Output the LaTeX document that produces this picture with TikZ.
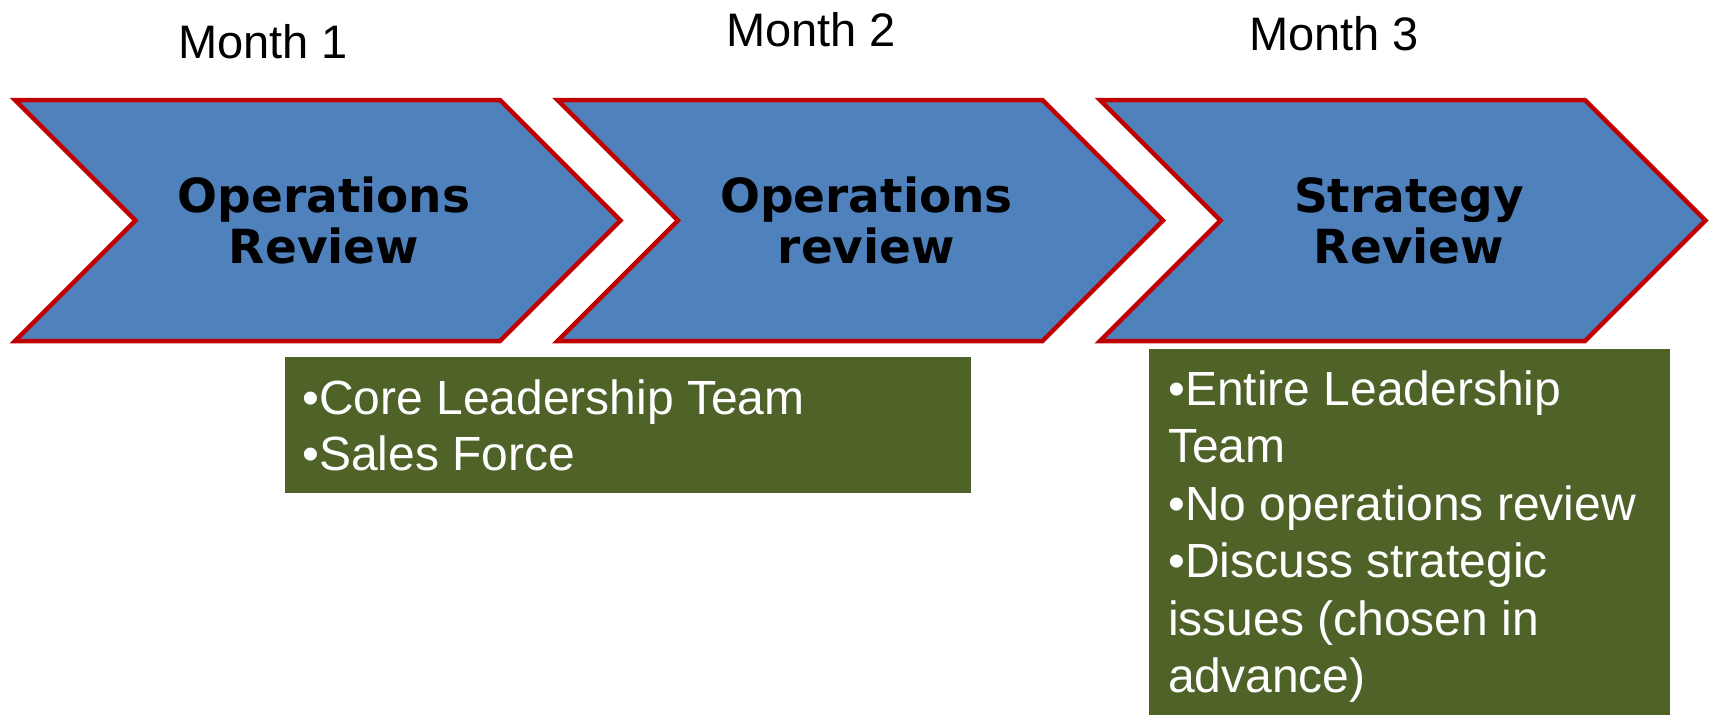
\documentclass[tikz,border=0pt]{standalone}
\usepackage{fontspec}
\setmainfont{Liberation Sans}
\newfontfamily\chevfont{DejaVu Sans}
\definecolor{chevblue}{HTML}{4F81BD}
\definecolor{chevred}{HTML}{C00000}
\definecolor{panelgreen}{HTML}{4F6228}
\begin{document}
\begin{tikzpicture}[x=1pt,y=-1pt,
  chevron/.style={draw=chevred, line width=4.5pt, fill=chevblue, line join=miter},
  chevlabel/.style={font=\chevfont\bfseries\fontsize{47}{51}\selectfont, anchor=base, inner sep=0pt},
  month/.style={font=\fontsize{47}{56}\selectfont, anchor=base, inner sep=0pt},
  panel/.style={fill=panelgreen},
  paneltext/.style={font=\fontsize{48}{57}\selectfont, text=white, anchor=base west, inner sep=0pt}]
\useasboundingbox (0,0) rectangle (1710,715);

% month headings
\node[month] (m1) at (263,58) {Month 1};
\node[month] (m2) at (811,46) {Month 2};
\node[month] (m3) at (1334,50) {Month 3};

% the three process chevrons
\foreach \i in {0,1,2} {
  \draw[chevron, shift={(542.5*\i,0)}]
    (15,100) -- (500,100) -- (620.5,220.5) -- (500,341) -- (15,341) -- (135.5,220.5) -- cycle;
}

% chevron captions
\node[chevlabel] (c1a) at (324,212) {Operations};
\node[chevlabel] (c1b) at (324,263) {Review};
\node[chevlabel] (c2a) at (866.5,212) {Operations};
\node[chevlabel] (c2b) at (866.5,263) {review};
\node[chevlabel] (c3a) at (1409,212) {Strategy};
\node[chevlabel] (c3b) at (1409,263) {Review};

% participants panel under months 1-2
\path[panel] (285,357) rectangle (971,493);
\node[paneltext] (p1a) at (302,414) {•Core Leadership Team};
\node[paneltext] (p1b) at (302,470.5) {•Sales Force};

% participants panel under month 3
\path[panel] (1149,349) rectangle (1670,715);
\node[paneltext] (p2a) at (1168,405) {•Entire Leadership};
\node[paneltext] (p2b) at (1168,462.5) {Team};
\node[paneltext] (p2c) at (1168,520) {•No operations review};
\node[paneltext] (p2d) at (1168,577.5) {•Discuss strategic};
\node[paneltext] (p2e) at (1168,635) {issues (chosen in};
\node[paneltext] (p2f) at (1168,692.5) {advance)};
\end{tikzpicture}
\end{document}
